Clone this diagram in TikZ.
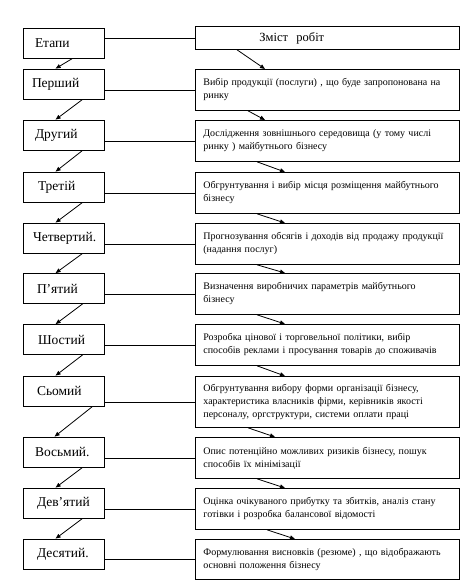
\documentclass[tikz,border=0pt]{standalone}
\usepackage{fontspec}
\setmainfont{Liberation Serif}
\usetikzlibrary{arrows.meta,positioning}

\begin{document}
\begin{tikzpicture}[x=1pt,y=-1pt]
  \tikzset{
    stage/.style={draw, line width=0.8pt, minimum width=81pt, minimum height=30pt, text width=57pt, inner xsep=12pt, inner ysep=0pt, align=left, font=\fontsize{13.5}{15}\selectfont},
    work/.style={draw, line width=0.8pt, anchor=north west, text width=248pt, inner xsep=8pt, inner ysep=0pt, minimum height=41pt, align=left, font=\fontsize{10}{13}\selectfont},
    link/.style={line width=0.8pt},
    flow/.style={line width=0.8pt, -{Triangle[length=5pt,width=4pt]}}
  }
  \useasboundingbox (0,0) rectangle (476,581);

  % stages
  \node[stage] (e0) at (63.5,43) {Етапи};
  \node[stage] (e1) at (63.5,84) {\hspace*{-3pt}Перший};
  \node[stage] (e2) at (63.5,135) {Другий};
  \node[stage] (e3) at (63.5,187) {\hspace*{3pt}Третій};
  \node[stage] (e4) at (63.5,238) {\hspace*{-2pt}Четвертий.};
  \node[stage] (e5) at (63.5,288.5) {\hspace*{2pt}П’ятий};
  \node[stage] (e6) at (63.5,339.5) {\hspace*{3pt}Шостий};
  \node[stage] (e7) at (63.5,391) {\hspace*{2pt}Сьомий};
  \node[stage] (e8) at (63.5,452) {Восьмий.};
  \node[stage] (e9) at (63.5,503) {\hspace*{2pt}Дев’ятий};
  \node[stage] (e10) at (63.5,554) {\hspace*{2pt}Десятий.};

  % contents
  \node[work, minimum height=23pt, font=\fontsize{12.5}{14}\selectfont] (r0) at (195,26) {\hspace*{56pt}Зміст\ \ робіт};
  \node[work] (r1) at (195,69) {Вибір продукції (послуги) , що буде запропонована на\\ ринку};
  \node[work] (r2) at (195,120) {Дослідження зовнішнього середовища (у тому числі\\ ринку ) майбутнього бізнесу};
  \node[work] (r3) at (195,172) {Обгрунтування і вибір місця розміщення майбутнього\\ бізнесу};
  \node[work] (r4) at (195,223) {Прогнозування обсягів і доходів від продажу продукції\\ (надання послуг)};
  \node[work] (r5) at (195,273) {Визначення виробничих параметрів майбутнього\\ бізнесу};
  \node[work] (r6) at (195,324) {Розробка цінової і торговельної політики, вибір\\ способів реклами і просування товарів до споживачів};
  \node[work, minimum height=51pt] (r7) at (195,376) {Обгрунтування вибору форми організації бізнесу,\\ характеристика власників фірми, керівників якості\\ персоналу, оргструктури, системи оплати праці};
  \node[work] (r8) at (195,437) {Опис потенційно можливих ризиків бізнесу, пошук\\ способів їх мінімізації};
  \node[work] (r9) at (195,488) {Оцінка очікуваного прибутку та збитків, аналіз стану\\ готівки і розробка балансової відомості};
  \node[work, minimum height=40pt] (r10) at (195,539) {Формулювання висновків (резюме) , що відображають\\ основні положення бізнесу};

  \foreach \i in {0,...,10}
    \draw[link] (e\i.east |- r\i.west) -- (r\i.west);

  \foreach \a/\b/\s/\t in {e0/e1/50/33, e1/e2/60/33, e2/e3/60/33, e3/e4/60/33, e4/e5/60/33,
      e5/e6/60/33, e6/e7/60/33, e7/e8/70/32, e8/e9/60/33, e9/e10/60/33}
    \draw[flow] ([xshift=\s pt]\a.south west) -- ([xshift=\t pt]\b.north west);

  \foreach \a/\b/\s/\t in {r0/r1/42/70, r1/r2/53/70, r2/r3/62/90, r3/r4/62/90, r4/r5/62/90,
      r5/r6/62/90, r6/r7/62/90, r7/r8/53/80, r8/r9/62/90, r9/r10/72/100}
    \draw[flow] ([xshift=\s pt]\a.south west) -- ([xshift=\t pt]\b.north west);
\end{tikzpicture}
\end{document}
